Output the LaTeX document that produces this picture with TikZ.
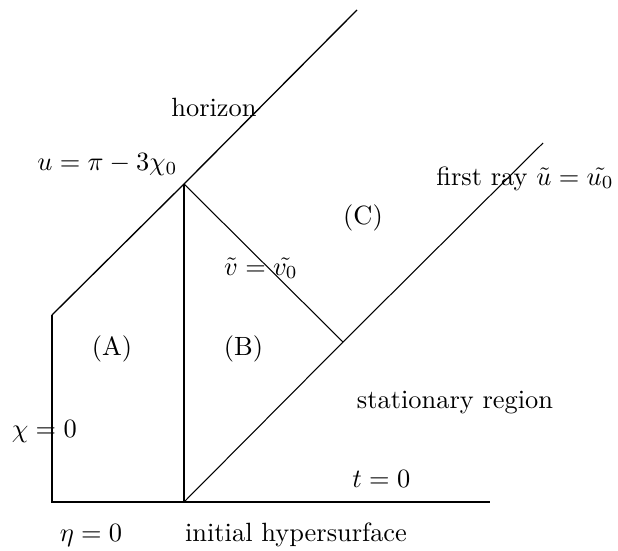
\documentclass[tikz,border=0pt]{standalone}
\begin{document}
\begin{tikzpicture}[x=0.3788pt,y=-0.3788pt,
  lbl/.style={inner sep=0pt,anchor=base},
  heavy/.style={line width=1.1pt},
  horiz/.style={line width=0.5pt},
  thinline/.style={line width=0.4pt}]
\useasboundingbox (0,0) rectangle (618,550);
% corners
\coordinate (bl) at (52,502);
\coordinate (br) at (490,502);
\coordinate (lt) at (52,315);
\coordinate (mb) at (184,502);
\coordinate (mt) at (184,184);
\coordinate (ht) at (357,10);
\coordinate (vr) at (343,342);
\coordinate (rt) at (543,143);
% lines
\draw[heavy] (lt) -- (bl) -- (br);
\draw[heavy] (mb) -- (mt);
\draw[horiz] (lt) -- (mt) -- (ht);
\draw[thinline] (mb) -- (vr) -- (rt);
\draw[thinline] (mt) -- (vr);
% labels
\node[lbl] (lhor) at (214,116.7) {horizon};
\node[lbl] (lu) at (107.5,170.5) {$u=\pi-3\chi_0$};
\node[lbl] (lray) at (525,185) {first ray $\tilde u=\tilde{u_0}$};
\node[lbl] (lC) at (363,224) {(C)};
\node[lbl] (lv) at (261,275) {$\tilde v=\tilde{v_0}$};
\node[lbl] (lA) at (112,355.7) {(A)};
\node[lbl] (lB) at (243.5,355.7) {(B)};
\node[lbl] (lstat) at (455,408.8) {stationary region};
\node[lbl] (lchi) at (44.3,437.3) {$\chi=0$};
\node[lbl] (lt0) at (381.3,487.3) {$t=0$};
\node[lbl] (leta) at (91,541.5) {$\eta=0$};
\node[lbl] (linit) at (296,541.5) {initial hypersurface};
\end{tikzpicture}
\end{document}
